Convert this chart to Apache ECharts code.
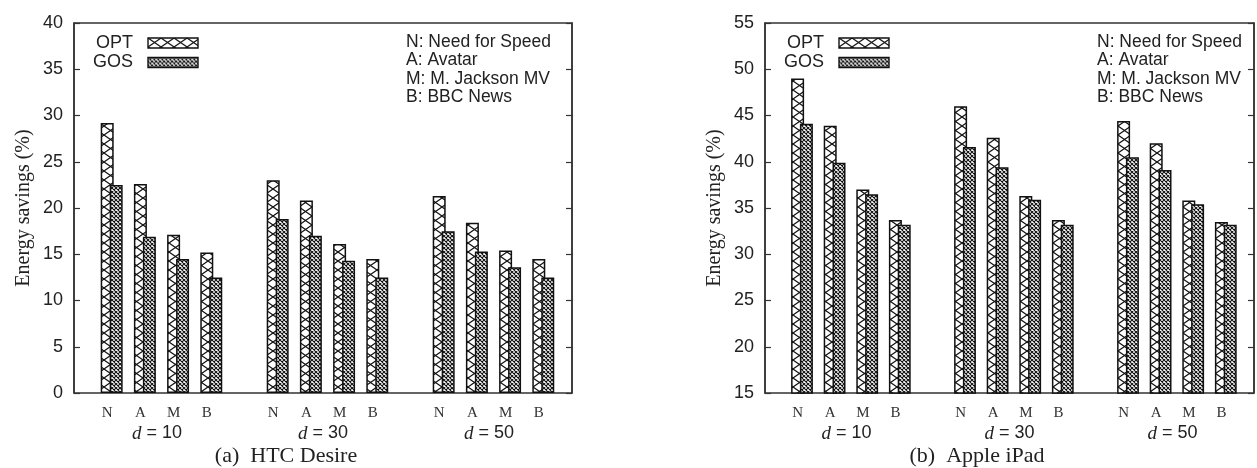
<!DOCTYPE html>
<html>
<head>
<meta charset="utf-8">
<script src="https://cdn.jsdelivr.net/npm/echarts@6/dist/echarts.min.js"></script>
<style>
  html, body { margin: 0; padding: 0; background: #fff; }
  #chart { width: 1257px; height: 468px; }
</style>
</head>
<body>
<div id="chart"></div>
<script>
// movies inside each d group, and the d values
const movies = ['N', 'A', 'M', 'B'];
const dValues = ['10', '30', '50'];
const keyLines = ['N: Need for Speed', 'A: Avatar', 'M: M. Jackson MV', 'B: BBC News'];
const subtitles = ['(a)  HTC Desire', '(b)  Apple iPad'];

// energy savings (%), order: d=10 N A M B, d=30 N A M B, d=50 N A M B
const htcOpt = [29.2, 22.6, 17.1, 15.2, 23.0, 20.8, 16.1, 14.5, 21.3, 18.4, 15.4, 14.5];
const htcGos = [22.5, 16.9, 14.5, 12.5, 18.8, 17.0, 14.3, 12.5, 17.5, 15.3, 13.6, 12.5];
const ipadOpt = [49.0, 43.9, 37.0, 33.7, 46.0, 42.6, 36.3, 33.7, 44.4, 42.0, 35.8, 33.5];
const ipadGos = [44.1, 39.9, 36.5, 33.2, 41.6, 39.4, 35.9, 33.2, 40.5, 39.1, 35.4, 33.2];

const SANS = '"Liberation Sans", Arial, sans-serif';
const SERIF = '"Liberation Serif", "Times New Roman", serif';
const INK = '#222';
const GOS_SHIFT = 0.27; // GOS bar sits a bit right of OPT (partly overlapping)

function hatch(w, h, lw) {
  const c = document.createElement('canvas');
  c.width = w; c.height = h;
  const ctx = c.getContext('2d');
  ctx.fillStyle = '#fff';
  ctx.fillRect(0, 0, w, h);
  ctx.strokeStyle = '#111';
  ctx.lineWidth = lw;
  ctx.beginPath();
  ctx.moveTo(0, 0); ctx.lineTo(w, h);
  ctx.moveTo(w, 0); ctx.lineTo(0, h);
  ctx.stroke();
  return c;
}
const optFill = { image: hatch(13, 9, 1.2), repeat: 'repeat' };
const gosFill = { image: hatch(4, 4, 1.1), repeat: 'repeat' };

// slot on the x axis: groups are 5 slots apart
const slot = j => Math.floor(j / 4) * 5 + (j % 4);

const panels = [
  { left: 74, yMin: 0, yMax: 40, opt: htcOpt, gos: htcGos, sub: subtitles[0] },
  { left: 765, yMin: 15, yMax: 55, opt: ipadOpt, gos: ipadGos, sub: subtitles[1] }
];

const option = {
  animation: false,
  backgroundColor: '#fff',
  grid: [], xAxis: [], yAxis: [], series: [], legend: [], graphic: []
};

panels.forEach((p, i) => {
  option.grid.push({
    left: p.left, top: 23, width: 498, height: 370,
    show: true, borderColor: '#333', borderWidth: 1.5
  });

  // movie letters
  option.xAxis.push({
    gridIndex: i, type: 'value', min: -1, max: 14, interval: 1, position: 'bottom',
    axisLine: { show: false, onZero: false }, axisTick: { show: false }, splitLine: { show: false },
    axisLabel: {
      margin: 13, fontFamily: SERIF, fontSize: 15, color: '#333',
      formatter: v => (v < 0 || v % 5 > 3) ? '' : movies[v % 5]
    }
  });
  // hidden axis for GOS bars
  option.xAxis.push({
    gridIndex: i, type: 'value', min: -1 - GOS_SHIFT, max: 14 - GOS_SHIFT, show: false,
    axisLine: { onZero: false }
  });
  // d = .. group labels
  option.xAxis.push({
    gridIndex: i, type: 'value', min: -1, max: 14, interval: 0.5, position: 'bottom',
    axisLine: { show: false, onZero: false }, axisTick: { show: false }, splitLine: { show: false },
    axisLabel: {
      margin: 31, fontFamily: SANS, fontSize: 18, color: INK,
      formatter: v => {
        const g = (v - 1.5) / 5;
        return Number.isInteger(g) && g >= 0 && g < dValues.length ? '{i|d} = ' + dValues[g] : '';
      },
      rich: { i: { fontFamily: SERIF, fontStyle: 'italic', fontSize: 19, color: INK } }
    }
  });

  option.yAxis.push({
    gridIndex: i, type: 'value', min: p.yMin, max: p.yMax, interval: 5, position: 'left',
    axisLine: { show: true, onZero: false, lineStyle: { color: '#333', width: 1.5 } },
    axisTick: { show: true, inside: true, length: 6, lineStyle: { color: '#333', width: 1.2 } },
    splitLine: { show: false },
    axisLabel: { margin: 11, fontFamily: SANS, fontSize: 18, color: INK },
    name: 'Energy savings (%)', nameLocation: 'middle', nameGap: 40,
    nameTextStyle: { fontFamily: SERIF, fontSize: 20, color: INK }
  });
  option.yAxis.push({
    gridIndex: i, type: 'value', min: p.yMin, max: p.yMax, interval: 5, position: 'right',
    axisLine: { show: true, onZero: false, lineStyle: { color: '#333', width: 1.5 } },
    axisTick: { show: true, inside: true, length: 6, lineStyle: { color: '#333', width: 1.2 } },
    splitLine: { show: false }, axisLabel: { show: false }
  });

  option.series.push({
    type: 'bar', name: 'OPT', xAxisIndex: 3 * i, yAxisIndex: 2 * i,
    data: p.opt.map((v, j) => [slot(j), v]), barWidth: 13,
    itemStyle: { color: optFill, borderColor: '#111', borderWidth: 1.5 }, silent: true
  });
  option.series.push({
    type: 'bar', name: 'GOS', xAxisIndex: 3 * i + 1, yAxisIndex: 2 * i,
    data: p.gos.map((v, j) => [slot(j), v]), barWidth: 13,
    itemStyle: { color: gosFill, borderColor: '#111', borderWidth: 1.5 }, silent: true
  });

  option.legend.push({
    data: ['OPT', 'GOS'], orient: 'vertical', align: 'right', icon: 'rect',
    left: p.left + 19, top: 34, itemWidth: 50, itemHeight: 10, itemGap: 1.5, padding: 0,
    selectedMode: false,
    itemStyle: { borderColor: '#111', borderWidth: 1.4 },
    textStyle: { fontFamily: SANS, fontSize: 18, color: INK, padding: [0, 10, 0, 0] }
  });

  option.graphic.push({
    type: 'text', x: p.left + 332, y: 33, silent: true,
    style: { text: keyLines.join('\n'), font: '17.5px ' + SANS, lineHeight: 18.3, fill: INK }
  });
  option.graphic.push({
    type: 'text', x: p.left + 212, y: 456, silent: true,
    style: { text: p.sub, font: '22px ' + SERIF, fill: INK, align: 'center', verticalAlign: 'middle' }
  });
});

const chart = echarts.init(document.getElementById('chart'));
chart.setOption(option);
</script>
</body>
</html>
